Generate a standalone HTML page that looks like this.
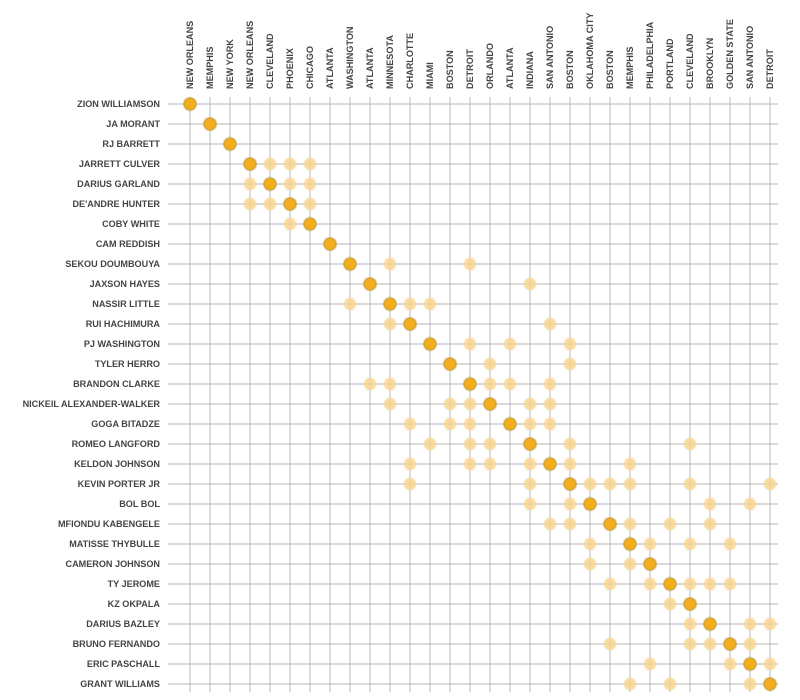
<!DOCTYPE html>
<html><head><meta charset="utf-8"><style>
body{margin:0;background:#fff;width:800px;height:700px;overflow:hidden}
svg{display:block}
text{font-family:"Liberation Sans",sans-serif;font-weight:bold;font-size:9.1px;fill:#444}
</style></head><body>
<svg id="s" width="800" height="700" viewBox="0 0 800 700">
<defs><filter id="b" x="-50%" y="-50%" width="200%" height="200%"><feGaussianBlur stdDeviation="0.6"/></filter></defs>
<g id="grid" stroke="#b4b4b4" stroke-width="0.9"></g>
<g text-anchor="end">
<text x="160" y="107">ZION WILLIAMSON</text>
<text x="160" y="127">JA MORANT</text>
<text x="160" y="147">RJ BARRETT</text>
<text x="160" y="167">JARRETT CULVER</text>
<text x="160" y="187">DARIUS GARLAND</text>
<text x="160" y="207">DE'ANDRE HUNTER</text>
<text x="160" y="227">COBY WHITE</text>
<text x="160" y="247">CAM REDDISH</text>
<text x="160" y="267">SEKOU DOUMBOUYA</text>
<text x="160" y="287">JAXSON HAYES</text>
<text x="160" y="307">NASSIR LITTLE</text>
<text x="160" y="327">RUI HACHIMURA</text>
<text x="160" y="347">PJ WASHINGTON</text>
<text x="160" y="367">TYLER HERRO</text>
<text x="160" y="387">BRANDON CLARKE</text>
<text x="160" y="407">NICKEIL ALEXANDER-WALKER</text>
<text x="160" y="427">GOGA BITADZE</text>
<text x="160" y="447">ROMEO LANGFORD</text>
<text x="160" y="467">KELDON JOHNSON</text>
<text x="160" y="487">KEVIN PORTER JR</text>
<text x="160" y="507">BOL BOL</text>
<text x="160" y="527">MFIONDU KABENGELE</text>
<text x="160" y="547">MATISSE THYBULLE</text>
<text x="160" y="567">CAMERON JOHNSON</text>
<text x="160" y="587">TY JEROME</text>
<text x="160" y="607">KZ OKPALA</text>
<text x="160" y="627">DARIUS BAZLEY</text>
<text x="160" y="647">BRUNO FERNANDO</text>
<text x="160" y="667">ERIC PASCHALL</text>
<text x="160" y="687">GRANT WILLIAMS</text>
</g>
<g text-anchor="start">
<text transform="translate(193,89) rotate(-90)">NEW ORLEANS</text>
<text transform="translate(213,89) rotate(-90)">MEMPHIS</text>
<text transform="translate(233,89) rotate(-90)">NEW YORK</text>
<text transform="translate(253,89) rotate(-90)">NEW ORLEANS</text>
<text transform="translate(273,89) rotate(-90)">CLEVELAND</text>
<text transform="translate(293,89) rotate(-90)">PHOENIX</text>
<text transform="translate(313,89) rotate(-90)">CHICAGO</text>
<text transform="translate(333,89) rotate(-90)">ATLANTA</text>
<text transform="translate(353,89) rotate(-90)">WASHINGTON</text>
<text transform="translate(373,89) rotate(-90)">ATLANTA</text>
<text transform="translate(393,89) rotate(-90)">MINNESOTA</text>
<text transform="translate(413,89) rotate(-90)">CHARLOTTE</text>
<text transform="translate(433,89) rotate(-90)">MIAMI</text>
<text transform="translate(453,89) rotate(-90)">BOSTON</text>
<text transform="translate(473,89) rotate(-90)">DETROIT</text>
<text transform="translate(493,89) rotate(-90)">ORLANDO</text>
<text transform="translate(513,89) rotate(-90)">ATLANTA</text>
<text transform="translate(533,89) rotate(-90)">INDIANA</text>
<text transform="translate(553,89) rotate(-90)">SAN ANTONIO</text>
<text transform="translate(573,89) rotate(-90)">BOSTON</text>
<text transform="translate(593,89) rotate(-90)">OKLAHOMA CITY</text>
<text transform="translate(613,89) rotate(-90)">BOSTON</text>
<text transform="translate(633,89) rotate(-90)">MEMPHIS</text>
<text transform="translate(653,89) rotate(-90)">PHILADELPHIA</text>
<text transform="translate(673,89) rotate(-90)">PORTLAND</text>
<text transform="translate(693,89) rotate(-90)">CLEVELAND</text>
<text transform="translate(713,89) rotate(-90)">BROOKLYN</text>
<text transform="translate(733,89) rotate(-90)">GOLDEN STATE</text>
<text transform="translate(753,89) rotate(-90)">SAN ANTONIO</text>
<text transform="translate(773,89) rotate(-90)">DETROIT</text>
</g>
<g id="dots"></g>
</svg>
<script>
var NS="http://www.w3.org/2000/svg",g=document.getElementById("grid"),d=document.getElementById("dots");
function el(p,t,a){var e=document.createElementNS(NS,t);for(var k in a)e.setAttribute(k,a[k]);p.appendChild(e);return e;}
for(var i=0;i<30;i++){var x=190+20*i,y=104+20*i;
el(g,"line",{x1:x,y1:97,x2:x,y2:692});
el(g,"line",{x1:168,y1:y,x2:778,y2:y});}
var L={3:[4,5,6],4:[3,5,6],5:[3,4,6],6:[5],8:[10,14],9:[17],10:[8,11,12],11:[10,18],12:[14,16,19],13:[15,19],
14:[9,10,15,16,18],15:[10,13,14,17,18],16:[11,13,14,17,18],17:[12,14,15,19,25],18:[11,14,15,17,19,22],
19:[11,17,20,21,22,25,29],20:[17,19,26,28],21:[18,19,22,24,26],22:[20,23,25,27],23:[20,22],24:[21,23,25,26,27],
25:[24],26:[25,28,29],27:[21,25,26,28],28:[23,27,29],29:[22,24,28]};
for(var r in L)L[r].forEach(function(c){el(d,"circle",{cx:190+20*c,cy:104+20*r,r:6.2,fill:"#f8d58f",opacity:0.85,filter:"url(#b)"});});
for(var r=0;r<30;r++)el(d,"circle",{cx:190+20*r,cy:104+20*r,r:6.2,fill:"#f2ae1f",stroke:"#b58c2e","stroke-width":0.9,filter:"url(#b)"});
</script>
</body></html>
